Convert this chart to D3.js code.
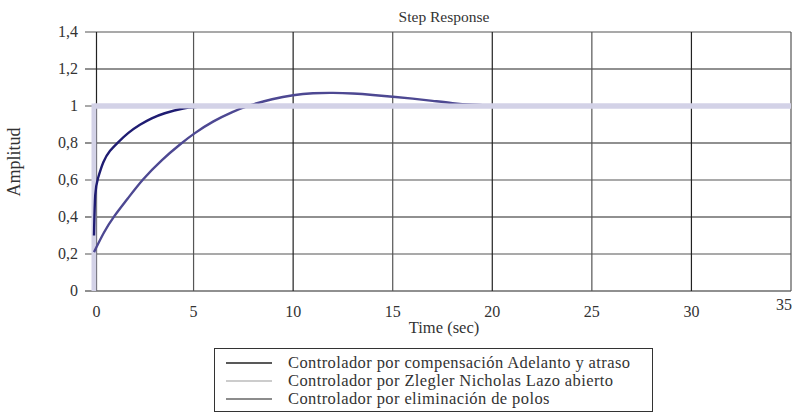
<!DOCTYPE html>
<html lang="es">
<head>
<meta charset="utf-8">
<title>Step Response</title>
<script src="https://cdn.jsdelivr.net/npm/d3@7"></script>
<style>
  body { margin: 0; background: #fff; }
  text { font-family: "Liberation Serif", "DejaVu Serif", serif; fill: #333; }
</style>
</head>
<body>
<script>
// datos
var xTicks = [0, 5, 10, 15, 20, 25, 30, 35];
var yTicks = [0, 0.2, 0.4, 0.6, 0.8, 1, 1.2, 1.4];

var tAdelanto = [0, 0.05, 0.17, 0.47, 0.8, 1.17, 1.7, 2.31, 2.9, 3.48, 4.48, 5.5, 8, 35];
var yAdelanto = [0.3, 0.55, 0.6, 0.706, 0.76, 0.8, 0.855, 0.9, 0.935, 0.96, 0.99, 1, 1, 1];

var tZN = [0, 0, 35];
var yZN = [0, 1, 1];

var tPolos = [0, 0.5, 0.97, 1.7, 2.4, 3.4, 4.4, 5, 6, 7, 7.67, 9, 10, 11, 12, 13, 14, 15, 16, 17, 18, 19, 20, 25, 30, 35];
var yPolos = [0.21, 0.32, 0.4, 0.5, 0.6, 0.71, 0.8, 0.85, 0.92, 0.97, 1, 1.04, 1.06, 1.07, 1.072, 1.068, 1.06, 1.05, 1.04, 1.028, 1.015, 1.006, 1, 0.999, 1, 1];

var legendLabels = [
  "Controlador por compensación Adelanto y atraso",
  "Controlador por Zlegler Nicholas Lazo abierto",
  "Controlador por eliminación de polos"
];
var legendColors = ["#222", "#bbb", "#666"];

var w = 795, h = 414;
var svg = d3.select("body").append("svg").attr("width", w).attr("height", h);

var x = d3.scaleLinear().domain([0, 35]).range([94, 791]);
var y = d3.scaleLinear().domain([0, 1.4]).range([291, 32]);

var fmt = function(d) { return String(d).replace(".", ","); };
// la línea de 0 queda un poco a la derecha en el original
var gx = function(d) { return d === 0 ? x(d) + 2.5 : x(d); };

// cuadrícula horizontal
svg.append("g").selectAll("line").data(yTicks).enter().append("line")
  .attr("x1", 85).attr("x2", x(35))
  .attr("y1", function(d) { return y(d); })
  .attr("y2", function(d) { return y(d); })
  .attr("stroke", function(d, i) { return i % 2 ? "#555" : "#222"; })
  .attr("stroke-width", 1.2);

// cuadrícula vertical
svg.append("g").selectAll("line").data(xTicks).enter().append("line")
  .attr("x1", gx).attr("x2", gx)
  .attr("y1", y(1.4)).attr("y2", y(0))
  .attr("stroke", function(d, i) { return i % 2 ? "#555" : "#222"; })
  .attr("stroke-width", 1.2);

// etiquetas eje y
svg.append("g").selectAll("text").data(yTicks).enter().append("text")
  .attr("x", 78)
  .attr("y", function(d) { return y(d) + 5; })
  .attr("text-anchor", "end")
  .style("font-size", "16px")
  .text(fmt);

// etiquetas eje x
svg.append("g").selectAll("text").data(xTicks).enter().append("text")
  .attr("x", gx)
  .attr("y", function(d) { return d === 35 ? 310 : 317; })
  .attr("text-anchor", function(d) { return d === 35 ? "end" : "middle"; })
  .attr("dx", function(d) { return d === 35 ? 1 : 0; })
  .style("font-size", "16px")
  .text(fmt);

var line = d3.line()
  .x(function(d) { return x(d[0]); })
  .y(function(d) { return y(d[1]); })
  .curve(d3.curveBasis);

var znLine = d3.line()
  .x(function(d) { return x(d[0]); })
  .y(function(d) { return y(d[1]); });

function pts(ts, vs) { return ts.map(function(t, i) { return [t, vs[i]]; }); }

svg.append("path").datum(pts(tZN, yZN))
  .attr("d", znLine)
  .attr("fill", "none").attr("stroke", "#d3d2e7").attr("stroke-width", 5);

svg.append("path").datum(pts(tAdelanto, yAdelanto))
  .attr("d", line)
  .attr("fill", "none").attr("stroke", "#1f1c72").attr("stroke-width", 2.4);

svg.append("path").datum(pts(tPolos, yPolos))
  .attr("d", line)
  .attr("fill", "none").attr("stroke", "#4d4892").attr("stroke-width", 2.4);

// la parte horizontal de ZN queda encima
svg.append("path").datum(pts(tZN.slice(1), yZN.slice(1)))
  .attr("d", znLine)
  .attr("fill", "none").attr("stroke", "#d3d2e7").attr("stroke-width", 5);

// títulos
svg.append("text").attr("x", 444).attr("y", 22).attr("text-anchor", "middle")
  .style("font-size", "15.5px").text("Step Response");
svg.append("text").attr("x", 444).attr("y", 333).attr("text-anchor", "middle")
  .style("font-size", "16.5px").text("Time (sec)");
svg.append("text").attr("transform", "translate(20,162) rotate(-90)")
  .attr("text-anchor", "middle").style("font-size", "18px").text("Amplitud");

// leyenda
var lg = svg.append("g");
lg.append("rect").attr("x", 214.5).attr("y", 348.5).attr("width", 438).attr("height", 63)
  .attr("fill", "#fff").attr("stroke", "#333").attr("stroke-width", 1);
legendLabels.forEach(function(lab, i) {
  var yy = 363 + i * 18;
  lg.append("line").attr("x1", 226).attr("x2", 272).attr("y1", yy).attr("y2", yy)
    .attr("stroke", legendColors[i]).attr("stroke-width", 1.5);
  lg.append("text").attr("x", 288).attr("y", yy + 5)
    .style("font-size", "16.5px").style("letter-spacing", "0.4px").text(lab);
});
</script>
</body>
</html>
